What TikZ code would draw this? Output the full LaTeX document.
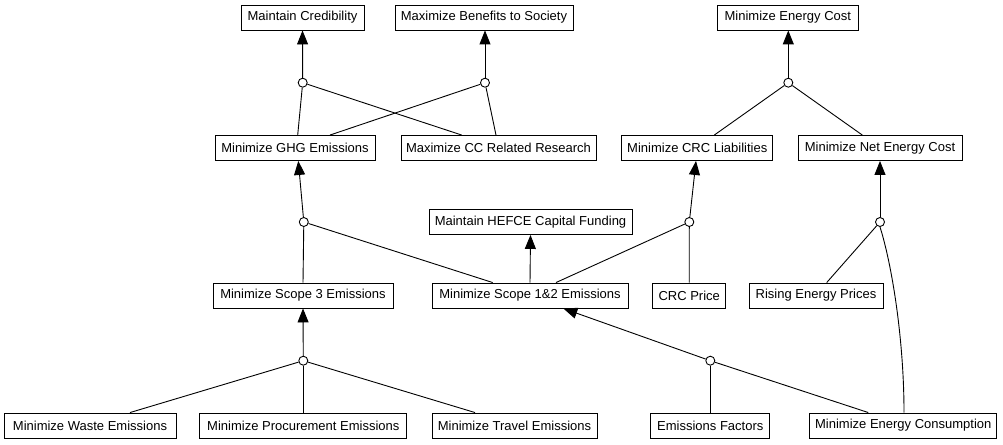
\documentclass[tikz,border=0pt]{standalone}
\usepackage{fontspec}
\setmainfont{Liberation Sans}
\usetikzlibrary{arrows.meta}
\begin{document}
\begin{tikzpicture}[x=1pt,y=-1pt,
  box/.style={draw=black,line width=0.9pt,fill=white,minimum height=25pt,inner sep=0pt,
    font=\fontsize{13pt}{15pt}\selectfont,text=black},
  junc/.style={draw=black,line width=0.9pt,fill=white,circle,minimum size=9pt,inner sep=0pt},
  link/.style={draw=black,line width=0.9pt},
  arr/.style={link,-{Triangle[length=14pt,width=11pt]}}]
\useasboundingbox (0,0) rectangle (1003,444);
% boxes
\node[box,minimum width=123pt] (cred) at (302.5,17.5) {Maintain Credibility};
\node[box,minimum width=178pt] (benefit) at (484,17.5) {Maximize Benefits to Society};
\node[box,minimum width=141pt] (encost) at (787.8,17.5) {Minimize Energy Cost};
\node[box,minimum width=160pt] (ghg) at (295,148) {Minimize GHG Emissions};
\node[box,minimum width=195pt] (ccres) at (498.5,148) {Maximize CC Related Research};
\node[box,minimum width=151pt] (crcl) at (697.3,148) {Minimize CRC Liabilities};
\node[box,minimum width=164pt] (netcost) at (880,148) {Minimize Net Energy Cost};
\node[box,minimum width=203pt] (hefce) at (530.5,222) {Maintain HEFCE Capital Funding};
\node[box,minimum width=180pt] (scope3) at (303,295.5) {Minimize Scope 3 Emissions};
\node[box,minimum width=196pt] (scope12) at (530,295.5) {Minimize Scope 1\&2 Emissions};
\node[box,minimum width=73pt] (crcprice) at (689.2,295.5) {CRC Price};
\node[box,minimum width=134pt] (rising) at (816,295.5) {Rising Energy Prices};
\node[box,minimum width=172pt] (waste) at (90,425.5) {Minimize Waste Emissions};
\node[box,minimum width=207pt] (procure) at (303.3,425.5) {Minimize Procurement Emissions};
\node[box,minimum width=165pt] (travel) at (514.5,425.5) {Minimize Travel Emissions};
\node[box,minimum width=119pt] (factors) at (710.3,425.5) {Emissions Factors};
\node[box,minimum width=187pt] (consump) at (903.3,425.5) {Minimize Energy Consumption};
% junctions
\node[junc] (j1) at (302.7,82.7) {};
\node[junc] (j2) at (485,82.7) {};
\node[junc] (j3) at (788.3,82.7) {};
\node[junc] (j4) at (303.8,222) {};
\node[junc] (j5) at (689.3,222) {};
\node[junc] (j6) at (880,222) {};
\node[junc] (j7) at (303.3,360.7) {};
\node[junc] (j8) at (710.3,360.7) {};
% connectors
\draw[link] ([xshift=2.7pt]ghg.north) -- (j1);
\draw[link] ([xshift=-36.8pt]ccres.north) -- (j1);
\draw[arr] (j1) -- (cred.south);
\draw[link] ([xshift=35pt]ghg.north) -- (j2);
\draw[link] ([xshift=-2.5pt]ccres.north) -- (j2);
\draw[arr] (j2) -- ([xshift=1pt]benefit.south);
\draw[link] ([xshift=17pt]crcl.north) -- (j3);
\draw[link] ([xshift=-17.7pt]netcost.north) -- (j3);
\draw[arr] (j3) -- ([xshift=0.5pt]encost.south);
\draw[link] (scope3.north) -- (j4);
\draw[link] ([xshift=-37.3pt]scope12.north) -- (j4);
\draw[arr] (j4) -- ([xshift=3.3pt]ghg.south);
\draw[link] ([xshift=26pt]scope12.north) -- (j5);
\draw[link] (crcprice.north) -- (j5);
\draw[arr] (j5) -- ([xshift=-1.3pt]crcl.south);
\draw[link] ([xshift=10.7pt]rising.north) -- (j6);
\draw[link] (j6.south) .. controls +(12,38) and +(0,-73) .. ([xshift=0.7pt]consump.north);
\draw[arr] (j6) -- (netcost.south);
\draw[link] ([xshift=40pt]waste.north) -- (j7);
\draw[link] (procure.north) -- (j7);
\draw[link] ([xshift=-39.5pt]travel.north) -- (j7);
\draw[arr] (j7) -- (scope3.south);
\draw[link] (factors.north) -- (j8);
\draw[link] ([xshift=-35pt]consump.north) -- (j8);
\draw[arr] (j8) -- ([xshift=33.3pt]scope12.south);
\draw[arr] (scope12.north) -- (hefce.south);
\end{tikzpicture}
\end{document}
